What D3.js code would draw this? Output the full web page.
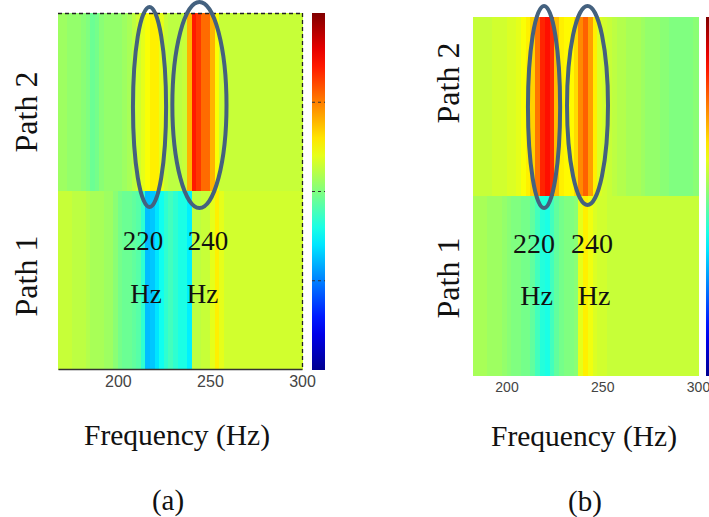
<!DOCTYPE html>
<html><head><meta charset="utf-8">
<script src="https://cdn.jsdelivr.net/npm/d3@7"></script>
<style>body{margin:0;background:#fff} svg{display:block}</style>
</head><body>
<svg id="fig" width="709" height="517"></svg>
<script>
// Two spectral maps (Path 1 / Path 2) over frequency, normalised amplitude 0..1
const paths = ["Path 2", "Path 1"];
const freqTicks = [200, 250, 300];

// panel (a): 2.5 Hz bins starting at 167.5 Hz
const freqA = d3.range(167.5, 300, 2.5);
const path2A = [0.53,0.53,0.52,0.52,0.52,0.51,0.50,0.48,0.49,0.51,0.52,0.52,0.52,0.52,0.53,0.54,0.56,0.58,0.60,0.62,0.64,0.64,0.60,0.57,0.56,0.56,0.56,0.57,0.70,0.85,0.82,0.77,0.77,0.70,0.62,
  0.57,0.57,0.57,0.57,0.57,0.57,0.57,0.57,0.57,0.57,0.57,0.57,0.57,0.57,0.57,0.57,0.57,0.57];
const path1A = [0.57,0.57,0.57,0.56,0.56,0.56,0.55,0.54,0.54,0.54,0.53,0.53,0.51,0.49,0.48,0.48,0.47,0.46,0.42,0.31,0.32,0.35,0.39,0.42,0.44,0.42,0.40,0.40,0.36,0.56,0.56,0.57,0.57,0.60,0.64,0.60,
  0.58,0.58,0.58,0.58,0.58,0.58,0.58,0.58,0.58,0.58,0.58,0.58,0.58,0.58,0.58,0.58,0.58];

// panel (b): 2.5 Hz bins starting at 182.5 Hz
const freqB = d3.range(182.5, 300, 2.5);
const path2B = [0.57,0.57,0.57,0.57,0.58,0.58,0.58,0.59,0.59,0.60,0.62,0.64,0.67,0.76,0.84,0.86,0.83,0.69,0.64,0.63,0.63,0.66,0.74,0.78,0.72,0.64,0.59,0.58,0.57,0.56,0.55,0.55,0.54,0.54,0.54,0.53,0.52,0.52,0.52,0.51,0.51,0.50,0.50,0.50,0.50,0.50,0.51];
const path1B = [0.54,0.54,0.54,0.53,0.53,0.53,0.52,0.51,0.50,0.50,0.49,0.49,0.47,0.44,0.41,0.40,0.44,0.47,0.49,0.50,0.50,0.51,0.60,0.64,0.61,0.59,0.58,0.58,
  0.57,0.57,0.57,0.57,0.57,0.57,0.57,0.57,0.57,0.57,0.57,0.57,0.57,0.57,0.57,0.57,0.57,0.57,0.57];

// highlighted peaks (centre and half-width in Hz)
const peakLabels = ["220", "240"];
const peaksA = [217.2, 244.3], peakHalfA = [9.0, 14.7];
const peaksB = [219.6, 242.3], peakHalfB = [8.4, 10.7];
const colorbarTicks = [0.25, 0.5, 0.75];

const jet = d3.scaleLinear()
  .domain([0, 0.125, 0.375, 0.625, 0.875, 1])
  .range(["#00008f", "#0000ff", "#00ffff", "#ffff00", "#ff0000", "#800000"])
  .clamp(true);

const svg = d3.select("#fig");
const serif = "'Liberation Serif','Times New Roman',serif";
const sans = "'Liberation Sans',Arial,sans-serif";

// shared gradient for the colour bars
const grad = svg.append("defs").append("linearGradient")
  .attr("id", "jetGrad").attr("x1", 0).attr("x2", 0).attr("y1", 1).attr("y2", 0);
grad.selectAll("stop").data(d3.range(0, 1.0001, 0.05)).join("stop")
  .attr("offset", d => d).attr("stop-color", d => jet(d));

const panels = [
  { id: "a", freq: freqA, rows: { "Path 2": path2A, "Path 1": path1A }, peaks: peaksA, half: peakHalfA,
    x0: 58, x1: 302, top: 13, bottom: 369, frame: true, tickSize: 16, tickY: 18,
    bar: { x: 312, w: 13 }, pathX: 37, pathY: [112, 276], numFont: 27, numY: 250, hzY: 303,
    numX: [143, 208], hzX: [146, 202.5], ell: [{ cy: 107, ry: 100 }, { cy: 105, ry: 103 }],
    xlabelX: 177, xlabelY: 445, tagX: 168, tagY: 510, tag: "(a)" },
  { id: "b", freq: freqB, rows: { "Path 2": path2B, "Path 1": path1B }, peaks: peaksB, half: peakHalfB,
    x0: 473, x1: 698, top: 17, bottom: 375, frame: false, tickSize: 14, tickY: 17,
    bar: { x: 706, w: 10 }, pathX: 459, pathY: [83, 278], numFont: 28, numY: 253, hzY: 305,
    numX: [534, 592], hzX: [536.5, 594], ell: [{ cy: 107, ry: 101 }, { cy: 105.5, ry: 99.5 }],
    xlabelX: 584, xlabelY: 446, tagX: 585, tagY: 511, tag: "(b)" }
];

panels.forEach(p => {
  const g = svg.append("g");
  const step = p.freq[1] - p.freq[0];
  const x = d3.scaleLinear().domain([p.freq[0], 300]).range([p.x0, p.x1]);
  const y = d3.scaleBand().domain(paths).range([p.top, p.bottom]);

  // heat map cells
  paths.forEach(row => {
    g.append("g").attr("shape-rendering", "crispEdges")
      .selectAll("rect").data(p.freq.map((f, i) => ({ f, v: p.rows[row][i] }))).join("rect")
      .attr("x", d => x(d.f)).attr("width", d => x(d.f + step) - x(d.f) + 0.6)
      .attr("y", y(row)).attr("height", y.bandwidth() + 0.6)
      .attr("fill", d => jet(d.v));
  });

  // frequency axis
  const ax = g.append("g").attr("transform", `translate(0,${p.bottom})`)
    .call(d3.axisBottom(x).tickValues(freqTicks).tickSize(0).tickFormat(d3.format("d")));
  ax.select(".domain").attr("stroke", p.frame ? "#333" : "none").attr("stroke-width", 1.6);
  ax.selectAll("text").attr("y", p.tickY).attr("dy", 0)
    .attr("font-family", sans).attr("font-size", p.tickSize).attr("fill", "#444");

  if (p.frame) {
    g.append("line").attr("x1", p.x0).attr("x2", p.x1 + 1).attr("y1", p.top + 0.5).attr("y2", p.top + 0.5)
      .attr("stroke", "#222").attr("stroke-width", 1.3).attr("stroke-dasharray", "4,3");
    g.append("line").attr("x1", p.x1 + 0.5).attr("x2", p.x1 + 0.5).attr("y1", p.top).attr("y2", p.bottom)
      .attr("stroke", "#222").attr("stroke-width", 1.3).attr("stroke-dasharray", "4,3");
  }

  // colour bar
  const cb = d3.scaleLinear().domain([0, 1]).range([p.bottom + 1, p.top]);
  g.append("rect").attr("x", p.bar.x).attr("y", cb(1)).attr("width", p.bar.w)
    .attr("height", cb(0) - cb(1)).attr("fill", "url(#jetGrad)");
  if (p.frame) {
    g.selectAll(".cbt").data(colorbarTicks).join("line")
      .attr("x1", p.bar.x).attr("x2", p.bar.x + p.bar.w)
      .attr("y1", d => cb(d)).attr("y2", d => cb(d))
      .attr("stroke", "#333").attr("stroke-width", 1.2).attr("stroke-dasharray", "3,3");
  }

  // peak ellipses
  g.selectAll("ellipse").data(p.peaks).join("ellipse")
    .attr("cx", d => x(d)).attr("rx", (d, i) => x(d + p.half[i]) - x(d))
    .attr("cy", (d, i) => p.ell[i].cy).attr("ry", (d, i) => p.ell[i].ry)
    .attr("fill", "none").attr("stroke", "#44617f").attr("stroke-width", 4);

  // peak annotations
  peakLabels.forEach((t, i) => {
    g.append("text").attr("x", p.numX[i]).attr("y", p.numY).attr("text-anchor", "middle")
      .attr("font-family", serif).attr("font-size", p.numFont).attr("fill", "#111").text(t);
    g.append("text").attr("x", p.hzX[i]).attr("y", p.hzY).attr("text-anchor", "middle")
      .attr("font-family", serif).attr("font-size", p.numFont).attr("fill", "#111").text("Hz");
  });

  // row labels
  paths.forEach((row, i) => {
    g.append("text").attr("transform", `translate(${p.pathX},${p.pathY[i]}) rotate(-90)`)
      .attr("text-anchor", "middle").attr("font-family", serif).attr("font-size", 32)
      .attr("fill", "#111").text(row);
  });

  g.append("text").attr("x", p.xlabelX).attr("y", p.xlabelY).attr("text-anchor", "middle")
    .attr("font-family", serif).attr("font-size", 29.5).attr("fill", "#111").text("Frequency (Hz)");
  g.append("text").attr("x", p.tagX).attr("y", p.tagY).attr("text-anchor", "middle")
    .attr("font-family", serif).attr("font-size", 29).attr("fill", "#111").text(p.tag);
});
</script>
</body></html>
